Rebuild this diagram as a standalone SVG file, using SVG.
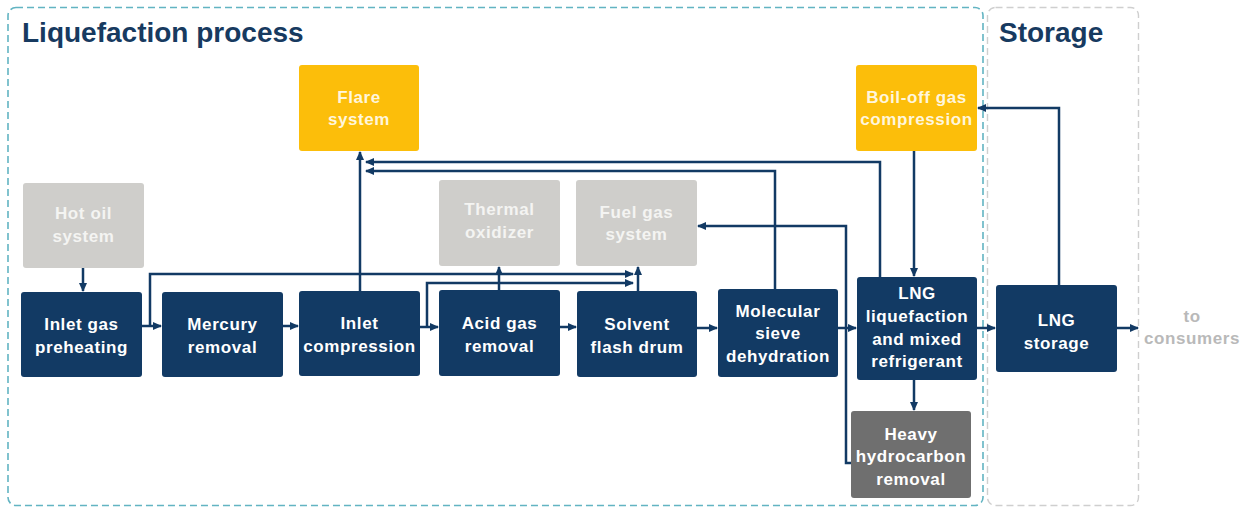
<svg xmlns="http://www.w3.org/2000/svg" width="1248" height="508" viewBox="0 0 1248 508">
<style>
.box{stroke:none}
.navy{fill:#123a64}
.yellow{fill:#fcbe0a}
.lgray{fill:#cfcecb}
.dgray{fill:#6f6f6f}
.t{font-family:"Liberation Sans",Arial,sans-serif;font-weight:bold;font-size:17px;letter-spacing:0.6px;text-anchor:middle;fill:#ffffff}
.ty{fill:#fff6dc}
.tg{fill:#f4f4f2}
.title{font-family:"Liberation Sans",Arial,sans-serif;font-weight:bold;font-size:28px;fill:#173a60}
.c{fill:none;stroke:#123a64;stroke-width:2.5;marker-end:url(#ah)}
.cn{fill:none;stroke:#123a64;stroke-width:2.5}
</style>
<defs>
<marker id="ah" markerUnits="userSpaceOnUse" markerWidth="9" markerHeight="8" refX="8" refY="4" orient="auto">
<path d="M0,0 L9,4 L0,8 z" fill="#123a64"/>
</marker>
</defs>
<rect width="1248" height="508" fill="#ffffff"/>
<g id="containers">
<rect x="8" y="7.5" width="975" height="498" rx="8" fill="none" stroke="#62b4c2" stroke-width="1.6" stroke-dasharray="7 4"/>
<rect x="987.5" y="7.5" width="151" height="498" rx="8" fill="none" stroke="#cfcfcf" stroke-width="1.4" stroke-dasharray="7 4"/>
<text class="title" x="22" y="42">Liquefaction process</text>
<text class="title" x="999" y="42">Storage</text>
</g>
<g id="connectors">
<path class="c" d="M83,268 V291"/>
<path class="c" d="M142,326 H161"/>
<path class="c" d="M283,326 H298"/>
<path class="c" d="M420,327 H438"/>
<path class="c" d="M560,327 H576"/>
<path class="c" d="M697,328 H717"/>
<path class="c" d="M838,328 H856"/>
<path class="c" d="M977,328 H995"/>
<path class="c" d="M1117,328 H1138"/>
<path class="c" d="M360,291 V152"/>
<path class="c" d="M150,326 V274 H633"/>
<path class="c" d="M427,327 V283 H633"/>
<path class="c" d="M499,290 V267"/>
<path class="c" d="M638,291 V267"/>
<path class="c" d="M775,289 V171 H366"/>
<path class="c" d="M880,277 V162 H366"/>
<path class="c" d="M914,150 V276"/>
<path class="c" d="M1059,285 V108 H978"/>
<path class="c" d="M914,380 V410"/>
<path class="c" d="M851,463 H846 V226 H698"/>
</g>
<g id="flare"><rect class="box yellow" x="299" y="65" width="120" height="86" rx="3"/><text class="t ty" x="359" y="103">Flare</text><text class="t ty" x="359" y="125">system</text></g>
<g id="boiloff"><rect class="box yellow" x="856" y="65" width="121" height="86" rx="3"/><text class="t ty" x="916.5" y="103">Boil-off gas</text><text class="t ty" x="916.5" y="125">compression</text></g>
<g id="hotoil"><rect class="box lgray" x="23" y="183" width="121" height="85" rx="3"/><text class="t tg" x="83.5" y="219">Hot oil</text><text class="t tg" x="83.5" y="242">system</text></g>
<g id="thermal"><rect class="box lgray" x="439" y="180" width="121" height="86" rx="3"/><text class="t tg" x="499.5" y="215">Thermal</text><text class="t tg" x="499.5" y="238">oxidizer</text></g>
<g id="fuelgas"><rect class="box lgray" x="576" y="180" width="121" height="86" rx="3"/><text class="t tg" x="636.5" y="218">Fuel gas</text><text class="t tg" x="636.5" y="240">system</text></g>
<g id="preheat"><rect class="box navy" x="21" y="292" width="121" height="85" rx="3"/><text class="t" x="81.5" y="330">Inlet gas</text><text class="t" x="81.5" y="353">preheating</text></g>
<g id="mercury"><rect class="box navy" x="162" y="292" width="121" height="85" rx="3"/><text class="t" x="222.5" y="330">Mercury</text><text class="t" x="222.5" y="353">removal</text></g>
<g id="inletcomp"><rect class="box navy" x="299" y="291" width="121" height="85" rx="3"/><text class="t" x="359.5" y="329">Inlet</text><text class="t" x="359.5" y="352">compression</text></g>
<g id="acidgas"><rect class="box navy" x="439" y="290" width="121" height="86" rx="3"/><text class="t" x="499.5" y="329">Acid gas</text><text class="t" x="499.5" y="352">removal</text></g>
<g id="solvent"><rect class="box navy" x="577" y="291" width="120" height="86" rx="3"/><text class="t" x="637" y="330">Solvent</text><text class="t" x="637" y="353">flash drum</text></g>
<g id="molsieve"><rect class="box navy" x="718" y="289" width="120" height="88" rx="3"/><text class="t" x="778" y="317">Molecular</text><text class="t" x="778" y="339">sieve</text><text class="t" x="778" y="362">dehydration</text></g>
<g id="lngliq"><rect class="box navy" x="857" y="277" width="120" height="103" rx="3"/><text class="t" x="917" y="299">LNG</text><text class="t" x="917" y="322">liquefaction</text><text class="t" x="917" y="345">and mixed</text><text class="t" x="917" y="367">refrigerant</text></g>
<g id="lngstorage"><rect class="box navy" x="996" y="285" width="121" height="87" rx="3"/><text class="t" x="1056.5" y="326">LNG</text><text class="t" x="1056.5" y="349">storage</text></g>
<g id="heavy"><rect class="box dgray" x="851" y="411" width="120" height="87" rx="3"/><text class="t" x="911" y="440">Heavy</text><text class="t" x="911" y="462">hydrocarbon</text><text class="t" x="911" y="485">removal</text></g>
<g id="consumers"><text class="t" style="fill:#b9b9b9" x="1192" y="322">to</text><text class="t" style="fill:#b9b9b9" x="1192" y="344">consumers</text></g>
</svg>
